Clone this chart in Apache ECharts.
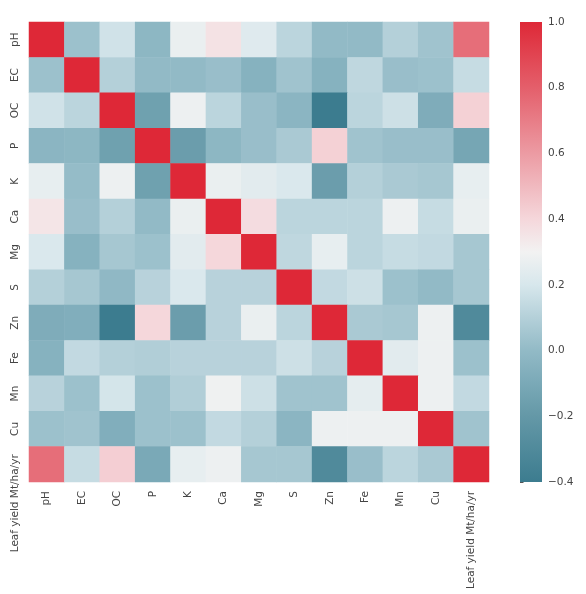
<!DOCTYPE html>
<html><head><meta charset="utf-8">
<script src="https://cdn.jsdelivr.net/npm/echarts@6/dist/echarts.min.js"></script>
<style>html,body{margin:0;padding:0;background:#fff}#c{width:586px;height:594px}</style>
</head><body><div id="c"></div>
<script>
const labels = ['pH','EC','OC','P','K','Ca','Mg','S','Zn','Fe','Mn','Cu','Leaf yield Mt/ha/yr'];

const rowPH = [1, 0.03, 0.18, -0.02, 0.27, 0.36, 0.23, 0.12, 0.0, 0.0, 0.1, 0.04, 0.75];
const rowEC = [0.03, 1, 0.1, 0.0, 0.0, 0.02, -0.05, 0.04, -0.05, 0.13, 0.02, 0.03, 0.15];
const rowOC = [0.18, 0.12, 1, -0.15, 0.28, 0.12, 0.02, -0.03, -0.4, 0.12, 0.17, -0.08, 0.42];
const rowP  = [-0.03, -0.02, -0.15, 1, -0.17, -0.02, 0.02, 0.07, 0.42, 0.04, 0.02, 0.02, -0.12];
const rowK  = [0.26, 0.01, 0.28, -0.15, 1, 0.27, 0.24, 0.21, -0.17, 0.1, 0.07, 0.06, 0.26];
const rowCa = [0.35, 0.02, 0.1, 0.0, 0.27, 1, 0.38, 0.12, 0.12, 0.12, 0.28, 0.15, 0.27];
const rowMg = [0.21, -0.05, 0.06, 0.03, 0.24, 0.4, 1, 0.13, 0.26, 0.12, 0.15, 0.14, 0.06];
const rowS  = [0.1, 0.06, -0.01, 0.11, 0.21, 0.11, 0.11, 1, 0.14, 0.17, 0.03, 0.0, 0.06];
const rowZn = [-0.08, -0.07, -0.4, 0.4, -0.17, 0.11, 0.27, 0.12, 1, 0.07, 0.06, 0.28, -0.3];
const rowFe = [-0.05, 0.14, 0.1, 0.09, 0.11, 0.11, 0.11, 0.17, 0.11, 1, 0.24, 0.28, 0.03];
const rowMn = [0.11, 0.03, 0.19, 0.03, 0.09, 0.29, 0.17, 0.04, 0.04, 0.25, 1, 0.28, 0.14];
const rowCu = [0.03, 0.04, -0.07, 0.03, 0.03, 0.14, 0.1, -0.03, 0.28, 0.28, 0.28, 1, 0.04];
const rowLY = [0.75, 0.15, 0.43, -0.1, 0.26, 0.28, 0.06, 0.06, -0.3, 0.02, 0.12, 0.07, 1];

const cbMin = -0.4, cbMax = 1.0, cbStep = 0.2;
const cmap = ['#3c7c8f','#508a9b','#6498a7','#7aa9b7','#92bac6','#b4d0d9','#d7e7ec','#f2f2f2',
              '#f5d7db','#f0b9bf','#ec9ba3','#e87d87','#e45f6b','#e14451','#de2837'];

const matrix = [rowPH,rowEC,rowOC,rowP,rowK,rowCa,rowMg,rowS,rowZn,rowFe,rowMn,rowCu,rowLY];
const data = [];
matrix.forEach((row, i) => row.forEach((v, j) => data.push([j, i, v])));

const yData = labels.map((l, i) => i === labels.length - 1 ? {value: l, textStyle: {align: 'right', padding: [0, -10, 0, 0]}} : l);
const font = {fontFamily: 'DejaVu Sans', fontSize: 10.5, color: '#444'};

const chart = echarts.init(document.getElementById('c'));
chart.setOption({
  animation: false,
  grid: [{left: 29, top: 22, width: 460, height: 460}, {left: 520, top: 22, width: 22, height: 460}],
  xAxis: [
    {type: 'category', data: labels, gridIndex: 0, position: 'bottom',
     axisLine: {show: false}, splitLine: {show: false},
     axisTick: {alignWithLabel: true, length: 3.5, lineStyle: {color: '#555'}},
     axisLabel: Object.assign({rotate: 90, interval: 0, margin: 9}, font)},
    {type: 'value', gridIndex: 1, min: 0, max: 1, show: false}
  ],
  yAxis: [
    {type: 'category', data: yData, inverse: true, gridIndex: 0,
     axisLine: {show: false}, splitLine: {show: false},
     axisTick: {alignWithLabel: true, length: 3.5, lineStyle: {color: '#555'}},
     axisLabel: Object.assign({rotate: 90, interval: 0, margin: 8}, font)},
    {type: 'value', gridIndex: 1, min: cbMin, max: cbMax, interval: cbStep, position: 'right',
     axisLine: {show: false}, splitLine: {show: false},
     axisTick: {show: true, length: 3.5, lineStyle: {color: '#555'}},
     axisLabel: Object.assign({margin: 6, formatter: v => (Math.round(v * 10) / 10).toFixed(1).replace('-', '\u2212')}, font)}
  ],
  visualMap: {show: false, min: cbMin, max: cbMax, seriesIndex: 0, dimension: 2, inRange: {color: cmap}},
  series: [
    {type: 'heatmap', data: data, xAxisIndex: 0, yAxisIndex: 0, itemStyle: {borderWidth: 0}, emphasis: {disabled: true}},
    {type: 'custom', xAxisIndex: 1, yAxisIndex: 1, data: [[0, cbMin, 1, cbMax]], encode: {x: [0, 2], y: [1, 3]},
     renderItem: (params, api) => {
       const p0 = api.coord([api.value(0), api.value(1)]);
       const p1 = api.coord([api.value(2), api.value(3)]);
       return {type: 'rect', shape: {x: p0[0], y: p1[1], width: p1[0] - p0[0], height: p0[1] - p1[1]},
         style: {fill: new echarts.graphic.LinearGradient(0, 1, 0, 0,
           cmap.map((c, i) => ({offset: i / (cmap.length - 1), color: c})))}};
     }}
  ]
});
</script></body></html>
